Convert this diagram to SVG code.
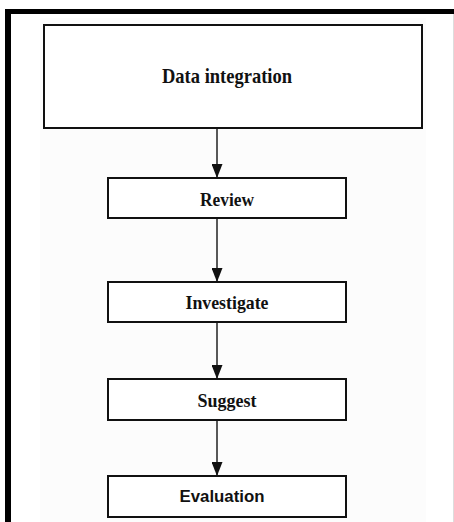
<svg xmlns="http://www.w3.org/2000/svg" width="454" height="522" viewBox="0 0 454 522">
  <defs>
    <marker id="arrow" markerWidth="14" markerHeight="11" refX="14" refY="5.5" orient="auto" markerUnits="userSpaceOnUse" viewBox="0 0 14 11">
      <path d="M0,0 L14,5.5 L0,11 Z" fill="#111"/>
    </marker>
  </defs>
  <style>
    .box { fill: #ffffff; stroke: #111111; stroke-width: 2; }
    .lbl { font-family: "Liberation Serif", "Times New Roman", serif; font-weight: bold; fill: #111111; text-anchor: middle; }
    .lbl-sans { font-family: "Liberation Sans", Arial, sans-serif; font-weight: bold; fill: #111111; text-anchor: middle; }
    .edge { stroke: #222222; stroke-width: 1.5; fill: none; marker-end: url(#arrow); }
    .frame { fill: #000000; }
  </style>

  <!-- page background -->
  <rect x="0" y="0" width="454" height="522" fill="#ffffff"/>
  <rect x="40" y="18" width="386" height="504" fill="#fcfcfc"/>

  <!-- outer frame: heavy top and left rules -->
  <g id="frame">
    <rect class="frame" x="5" y="9" width="449" height="5"/>
    <rect class="frame" x="5" y="9" width="6" height="513"/>
    <rect x="453" y="14" width="1" height="508" fill="#dddddd"/>
  </g>

  <!-- connectors -->
  <g id="connectors">
    <line class="edge" x1="217" y1="128" x2="217" y2="178"/>
    <line class="edge" x1="217" y1="218" x2="217" y2="282"/>
    <line class="edge" x1="217" y1="322" x2="217" y2="379"/>
    <line class="edge" x1="217" y1="420" x2="217" y2="476"/>
  </g>

  <g id="data-integration">
    <rect class="box" x="44" y="25" width="378" height="103"/>
    <text class="lbl" x="227" y="83" font-size="22" textLength="130" lengthAdjust="spacingAndGlyphs">Data integration</text>
  </g>

  <g id="review">
    <rect class="box" x="108" y="178" width="238" height="40"/>
    <text class="lbl" x="227" y="206" font-size="19" textLength="54" lengthAdjust="spacingAndGlyphs">Review</text>
  </g>

  <g id="investigate">
    <rect class="box" x="108" y="282" width="238" height="40"/>
    <text class="lbl" x="227" y="309" font-size="19" textLength="83" lengthAdjust="spacingAndGlyphs">Investigate</text>
  </g>

  <g id="suggest">
    <rect class="box" x="108" y="379" width="238" height="41"/>
    <text class="lbl" x="227" y="407" font-size="19" textLength="59" lengthAdjust="spacingAndGlyphs">Suggest</text>
  </g>

  <g id="evaluation">
    <rect class="box" x="108" y="476" width="238" height="41"/>
    <text class="lbl-sans" x="222" y="502" font-size="16" textLength="85" lengthAdjust="spacingAndGlyphs">Evaluation</text>
  </g>
</svg>
